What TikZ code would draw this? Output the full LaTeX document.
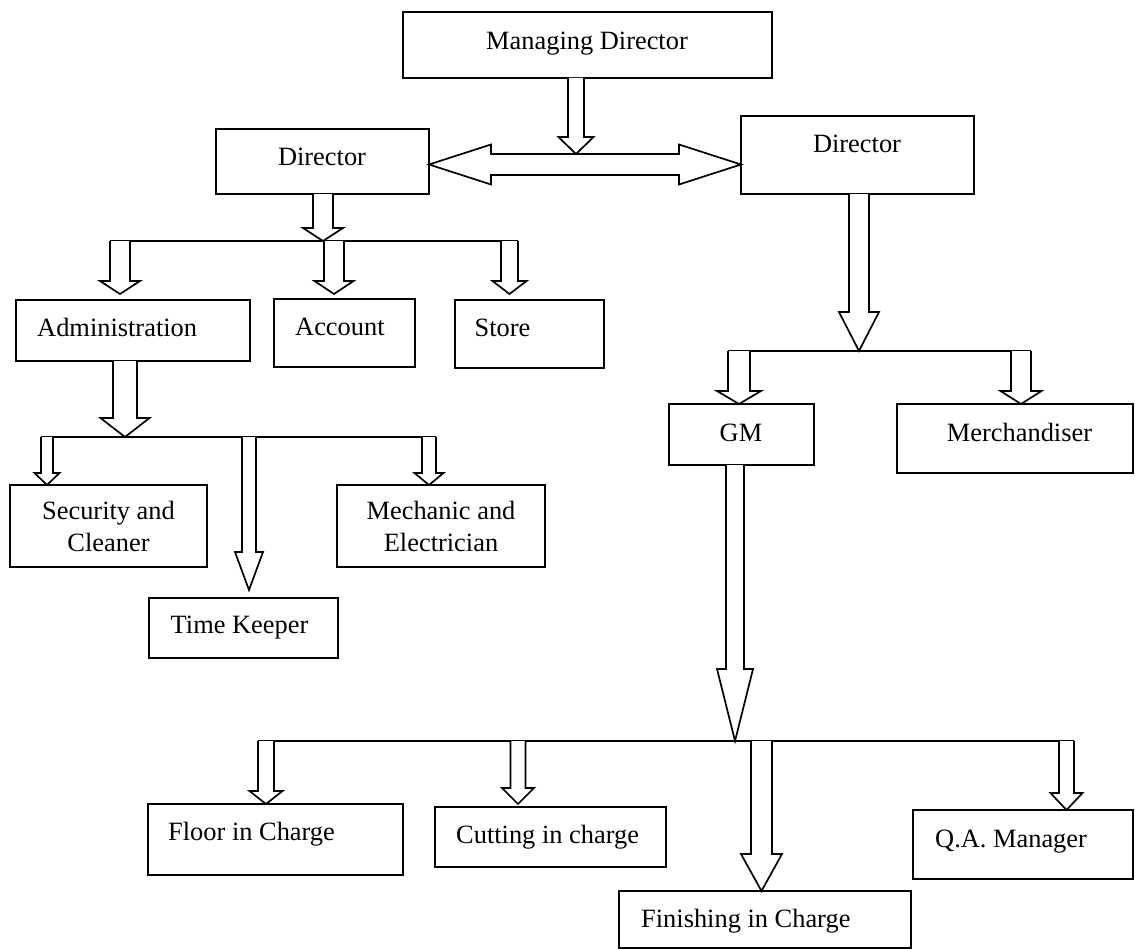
\documentclass[tikz,border=0pt]{standalone}
\usepackage{fontspec}
\setmainfont{Liberation Serif}
\usetikzlibrary{calc}
\tikzset{
  box/.style={draw, line width=1.7pt, inner sep=0pt, outer sep=0pt, anchor=north west},
  txt/.style={inner sep=0pt, font=\fontsize{26.4}{32}\selectfont},
  blkarrow/.style={draw, line width=1.7pt, line join=miter, fill=white},
  bus/.style={draw, line width=1.7pt}
}
\newcommand{\bx}[5]{\node[box, minimum width={#4-#2}, minimum height={#5-#3}] (#1) at (#2,#3) {};}
% start (only y used), tip, shaft half width, head half width, head length
\newcommand{\blk}[5]{\draw[blkarrow] let \p1=(#1), \p2=(#2) in
  (\x2-#3,\y1) -- (\x2-#3,\y2+#5) -- (\x2-#4,\y2+#5) -- (\x2,\y2) -- (\x2+#4,\y2+#5) -- (\x2+#3,\y2+#5) -- (\x2+#3,\y1);}
\begin{document}
\begin{tikzpicture}[x=1pt,y=-1pt]
\useasboundingbox (0,0) rectangle (1135,950);
% boxes
\bx{md}{403}{12}{772}{78}
\bx{dirL}{216}{129}{429}{194}
\bx{dirR}{741}{116}{974}{194}
\bx{admin}{16}{300}{250}{361}
\bx{account}{274}{299}{415}{367}
\bx{store}{455}{300}{604}{368}
\bx{sec}{10}{485}{207}{567}
\bx{time}{149}{598}{338}{658}
\bx{mech}{337}{485}{545}{567}
\bx{gm}{669}{404}{814}{465}
\bx{merch}{897}{404}{1133}{473}
\bx{floor}{148}{804}{403}{875}
\bx{cut}{435}{807}{666}{867}
\bx{fin}{619}{891}{911}{948}
\bx{qa}{913}{810}{1133}{879}
% texts
\node[txt, anchor=base] (md-t) at (587,50) {Managing Director};
\node[txt, anchor=base] (dirL-t) at (322,165) {Director};
\node[txt, anchor=base] (dirR-t) at (857,152) {Director};
\node[txt, anchor=base west] (admin-t) at (37,336) {Administration};
\node[txt, anchor=base west] (account-t) at (295,335) {Account};
\node[txt, anchor=base west] (store-t) at (474.5,336) {Store};
\node[txt, align=center] (sec-t) at (108.5,526) {Security and\\Cleaner};
\node[txt, align=center] (mech-t) at (441,526) {Mechanic and\\Electrician};
\node[txt, anchor=base] (time-t) at (239.5,633) {Time Keeper};
\node[txt, anchor=base] (gm-t) at (741,441) {GM};
\node[txt, anchor=base] (merch-t) at (1019.5,441) {Merchandiser};
\node[txt, anchor=base west] (floor-t) at (168,840) {Floor in Charge};
\node[txt, anchor=base west] (cut-t) at (456,843) {Cutting in charge};
\node[txt, anchor=base west] (fin-t) at (641,927) {Finishing in Charge};
\node[txt, anchor=base west] (qa-t) at (935,847) {Q.A. Manager};
% junctions and tips
\coordinate (dl) at (dirL.east |- 0,164.5);
\coordinate (dr) at (dirR.west |- 0,164.5);
\coordinate (mdtip) at (576,154);
\coordinate (j1) at (323,241);
\coordinate (b1a) at (110,241);
\coordinate (b1b) at (518,241);
\coordinate (j2) at (125,437);
\coordinate (b2a) at (41,437);
\coordinate (b2b) at (436,437);
\coordinate (j3) at (859,351);
\coordinate (b3a) at (728,351);
\coordinate (b3b) at (1031,351);
\coordinate (j4) at (735,741);
\coordinate (b4a) at (258,741);
\coordinate (b4b) at (1074,741);
\coordinate (t-admin) at (120,294);
\coordinate (t-account) at (334,294);
\coordinate (t-store) at (509.5,294);
\coordinate (t-sec) at (47,485);
\coordinate (t-time) at (249,590);
\coordinate (t-mech) at (429,485);
\coordinate (t-gm) at (739,404);
\coordinate (t-merch) at (1021,404);
\coordinate (t-floor) at (266,804);
\coordinate (t-cut) at (518,804);
\coordinate (t-fin) at (761.5,891);
\coordinate (t-qa) at (1066.5,810);
% double arrow between directors
\draw[blkarrow] let \p1=(dl), \p2=(dr) in
  (\x1,\y1) -- (\x1+62pt,\y1+20pt) -- (\x1+62pt,\y1+10.5pt) -- (\x2-62pt,\y1+10.5pt) -- (\x2-62pt,\y1+20pt)
  -- (\x2,\y1) -- (\x2-62pt,\y1-20pt) -- (\x2-62pt,\y1-10.5pt) -- (\x1+62pt,\y1-10.5pt) -- (\x1+62pt,\y1-20pt) -- cycle;
\blk{md.south}{mdtip}{8pt}{17.5pt}{17pt}
% bus lines
\draw[bus] (b1a) -- (b1b);
\draw[bus] (b2a) -- (b2b);
\draw[bus] (b3a) -- (b3b);
\draw[bus] (b4a) -- (b4b);
% left director branch
\blk{dirL.south}{j1}{10pt}{20pt}{13pt}
\blk{j1}{t-admin}{10pt}{20pt}{13pt}
\blk{j1}{t-account}{10pt}{19.5pt}{13pt}
\blk{j1}{t-store}{8.5pt}{17pt}{13pt}
% administration branch
\blk{admin.south}{j2}{12pt}{24.5pt}{19pt}
\blk{j2}{t-sec}{6pt}{12.5pt}{12pt}
\blk{j2}{t-time}{7pt}{14pt}{38pt}
\blk{j2}{t-mech}{7pt}{14.5pt}{12pt}
% right director branch
\blk{dirR.south}{j3}{10pt}{20pt}{39pt}
\blk{j3}{t-gm}{11pt}{22pt}{13pt}
\blk{j3}{t-merch}{10pt}{20.5pt}{13pt}
% GM branch
\blk{gm.south}{j4}{9pt}{18pt}{72pt}
\blk{j4}{t-floor}{8pt}{16.5pt}{13pt}
\blk{j4}{t-cut}{7.5pt}{16pt}{16pt}
\blk{j4}{t-fin}{10.5pt}{20.5pt}{37pt}
\blk{j4}{t-qa}{7.5pt}{16pt}{17pt}
\end{tikzpicture}
\end{document}
